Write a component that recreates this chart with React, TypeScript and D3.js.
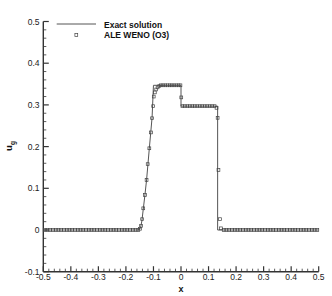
import React, { useEffect, useRef } from 'react';
import * as d3 from 'd3';

// exact solution profile (x, u_g)
const exactX = [-0.5, -0.153, -0.147, -0.142, -0.137, -0.131, -0.125, -0.115, -0.105, -0.1, 0, 0, 0.133, 0.133, 0.5];
const exactU = [0, 0, 0.005, 0.022, 0.05, 0.084, 0.12, 0.196, 0.27, 0.347, 0.347, 0.297, 0.297, 0, 0];

// ALE WENO (O3) cell values
const wenoX = [
  -0.495, -0.485, -0.475, -0.465, -0.455, -0.445, -0.435, -0.425, -0.415, -0.405,
  -0.395, -0.385, -0.375, -0.365, -0.355, -0.345, -0.335, -0.325, -0.315, -0.305,
  -0.295, -0.285, -0.275, -0.265, -0.255, -0.245, -0.235, -0.225, -0.215, -0.205,
  -0.195, -0.185, -0.175, -0.165, -0.155,
  -0.149, -0.145, -0.141, -0.137, -0.131, -0.125, -0.121, -0.115, -0.109, -0.105,
  -0.101, -0.099, -0.095, -0.09, -0.085, -0.079,
  -0.073, -0.065, -0.057, -0.049, -0.041, -0.033, -0.025, -0.017, -0.009, -0.002,
  0.001,
  0.005, 0.014, 0.023, 0.032, 0.041, 0.05, 0.059, 0.068, 0.077, 0.086, 0.095, 0.104, 0.113, 0.122,
  0.129, 0.133, 0.136, 0.1415, 0.145,
  0.155, 0.165, 0.175, 0.185, 0.195, 0.205, 0.215, 0.225, 0.235, 0.245,
  0.255, 0.265, 0.275, 0.285, 0.295, 0.305, 0.315, 0.325, 0.335, 0.345,
  0.355, 0.365, 0.375, 0.385, 0.395, 0.405, 0.415, 0.425, 0.435, 0.445,
  0.455, 0.465, 0.475, 0.485, 0.495,
];
const wenoU = [
  0, 0, 0, 0, 0, 0, 0, 0, 0, 0,
  0, 0, 0, 0, 0, 0, 0, 0, 0, 0,
  0, 0, 0, 0, 0, 0, 0, 0, 0, 0,
  0, 0, 0, 0, 0,
  0.003, 0.01, 0.026, 0.052, 0.084, 0.12, 0.158, 0.196, 0.234, 0.268,
  0.297, 0.32, 0.33, 0.337, 0.342, 0.345,
  0.347, 0.347, 0.347, 0.347, 0.347, 0.347, 0.347, 0.347, 0.347, 0.347,
  0.318,
  0.297, 0.297, 0.297, 0.297, 0.297, 0.297, 0.297, 0.297, 0.297, 0.297, 0.297, 0.297, 0.297, 0.297,
  0.293, 0.269, 0.144, 0.026, 0.004,
  0, 0, 0, 0, 0, 0, 0, 0, 0, 0,
  0, 0, 0, 0, 0, 0, 0, 0, 0, 0,
  0, 0, 0, 0, 0, 0, 0, 0, 0, 0,
  0, 0, 0, 0, 0,
];

const xTicks = [-0.5, -0.4, -0.3, -0.2, -0.1, 0, 0.1, 0.2, 0.3, 0.4, 0.5];
const xTickLabels = ['-0.5', '-0.4', '-0.3', '-0.2', '-0.1', '0', '0.1', '0.2', '0.3', '0.4', '0.5'];
const yTicks = [-0.1, 0, 0.1, 0.2, 0.3, 0.4, 0.5];
const yTickLabels = ['-0.1', '0', '0.1', '0.2', '0.3', '0.4', '0.5'];
const legendLabels = ['Exact solution', 'ALE WENO (O3)'];

export default function App() {
  const svgRef = useRef<SVGSVGElement>(null);

  useEffect(() => {
    if (!svgRef.current) return;
    const svg = d3.select(svgRef.current);
    svg.selectAll('*').remove();

    const font = '"Liberation Sans", Arial, sans-serif';
    const axisColor = '#333';

    const x = d3.scaleLinear().domain([-0.5, 0.5]).range([43.3, 318.7]);
    const y = d3.scaleLinear().domain([-0.1, 0.5]).range([271.7, 21.5]);

    // minor ticks
    const xMinor = d3.range(-0.5, 0.5001, 0.02).filter((v) => Math.abs(v * 10 - Math.round(v * 10)) > 1e-6);
    const yMinor = d3.range(-0.1, 0.5001, 0.02).filter((v) => Math.abs(v * 10 - Math.round(v * 10)) > 1e-6);

    const ax = svg.append('g').attr('stroke', axisColor);
    ax.append('line')
      .attr('x1', x(-0.5)).attr('x2', x(0.5))
      .attr('y1', y(-0.1)).attr('y2', y(-0.1))
      .attr('stroke-width', 1.4);
    ax.append('line')
      .attr('x1', x(-0.5)).attr('x2', x(-0.5))
      .attr('y1', y(-0.1)).attr('y2', y(0.5))
      .attr('stroke-width', 1.4);

    ax.selectAll('.xmaj').data(xTicks).enter().append('line')
      .attr('x1', (d) => x(d)).attr('x2', (d) => x(d))
      .attr('y1', y(-0.1)).attr('y2', y(-0.1) - 5.5)
      .attr('stroke-width', 1.2);
    ax.selectAll('.xmin').data(xMinor).enter().append('line')
      .attr('x1', (d) => x(d)).attr('x2', (d) => x(d))
      .attr('y1', y(-0.1)).attr('y2', y(-0.1) - 3)
      .attr('stroke-width', 0.8);
    ax.selectAll('.ymaj').data(yTicks).enter().append('line')
      .attr('x1', x(-0.5)).attr('x2', x(-0.5) + 5.5)
      .attr('y1', (d) => y(d)).attr('y2', (d) => y(d))
      .attr('stroke-width', 1.2);
    ax.selectAll('.ymin').data(yMinor).enter().append('line')
      .attr('x1', x(-0.5)).attr('x2', x(-0.5) + 3)
      .attr('y1', (d) => y(d)).attr('y2', (d) => y(d))
      .attr('stroke-width', 0.8);

    // tick labels
    svg.append('g').selectAll('text').data(xTicks).enter().append('text')
      .attr('x', (d) => x(d))
      .attr('y', 280)
      .attr('text-anchor', 'middle')
      .style('font-family', font)
      .style('font-size', '8.5px')
      .style('fill', '#222')
      .text((_, i) => xTickLabels[i]);
    svg.append('g').selectAll('text').data(yTicks).enter().append('text')
      .attr('x', 39.5)
      .attr('y', (d) => y(d) + 3)
      .attr('text-anchor', 'end')
      .style('font-family', font)
      .style('font-size', '8.5px')
      .style('fill', '#222')
      .text((_, i) => yTickLabels[i]);

    // axis titles
    svg.append('text')
      .attr('x', 181)
      .attr('y', 292)
      .attr('text-anchor', 'middle')
      .style('font-family', font)
      .style('font-size', '9px')
      .style('font-weight', 'bold')
      .style('fill', '#111')
      .text('x');
    const yt = svg.append('text')
      .attr('transform', 'translate(12,146) rotate(-90)')
      .attr('text-anchor', 'middle')
      .style('font-family', font)
      .style('font-size', '9.5px')
      .style('font-weight', 'bold')
      .style('fill', '#111');
    yt.append('tspan').text('u');
    yt.append('tspan').attr('dy', 2.5).style('font-size', '6.5px').text('g');

    // exact solution line
    const pts = exactX.map((v, i) => [v, exactU[i]] as [number, number]);
    const line = d3.line<[number, number]>().x((d) => x(d[0])).y((d) => y(d[1]));
    svg.append('path')
      .datum(pts)
      .attr('d', line)
      .attr('fill', 'none')
      .attr('stroke', '#555')
      .attr('stroke-width', 1);

    // ALE WENO markers
    const s = 2.8;
    svg.append('g').selectAll('rect').data(wenoX).enter().append('rect')
      .attr('x', (d) => x(d) - s / 2)
      .attr('y', (_, i) => y(wenoU[i]) - s / 2)
      .attr('width', s)
      .attr('height', s)
      .attr('fill', 'none')
      .attr('stroke', '#444')
      .attr('stroke-width', 0.7);

    // legend
    const legend = svg.append('g');
    legend.append('line')
      .attr('x1', 56.7).attr('x2', 96)
      .attr('y1', 24).attr('y2', 24)
      .attr('stroke', '#555').attr('stroke-width', 1);
    legend.append('rect')
      .attr('x', 76.3 - s / 2).attr('y', 35 - s / 2)
      .attr('width', s).attr('height', s)
      .attr('fill', 'none').attr('stroke', '#444').attr('stroke-width', 0.7);
    legend.selectAll('text').data(legendLabels).enter().append('text')
      .attr('x', 104)
      .attr('y', (_, i) => 27.5 + i * 10.5)
      .style('font-family', font)
      .style('font-size', '8.5px')
      .style('font-weight', 'bold')
      .style('fill', '#111')
      .text((d) => d);
  }, []);

  return (
    <svg
      ref={svgRef}
      width={332}
      height={296}
      style={{ position: 'absolute', left: 0, top: 0, background: '#fff' }}
    ></svg>
  );
}
